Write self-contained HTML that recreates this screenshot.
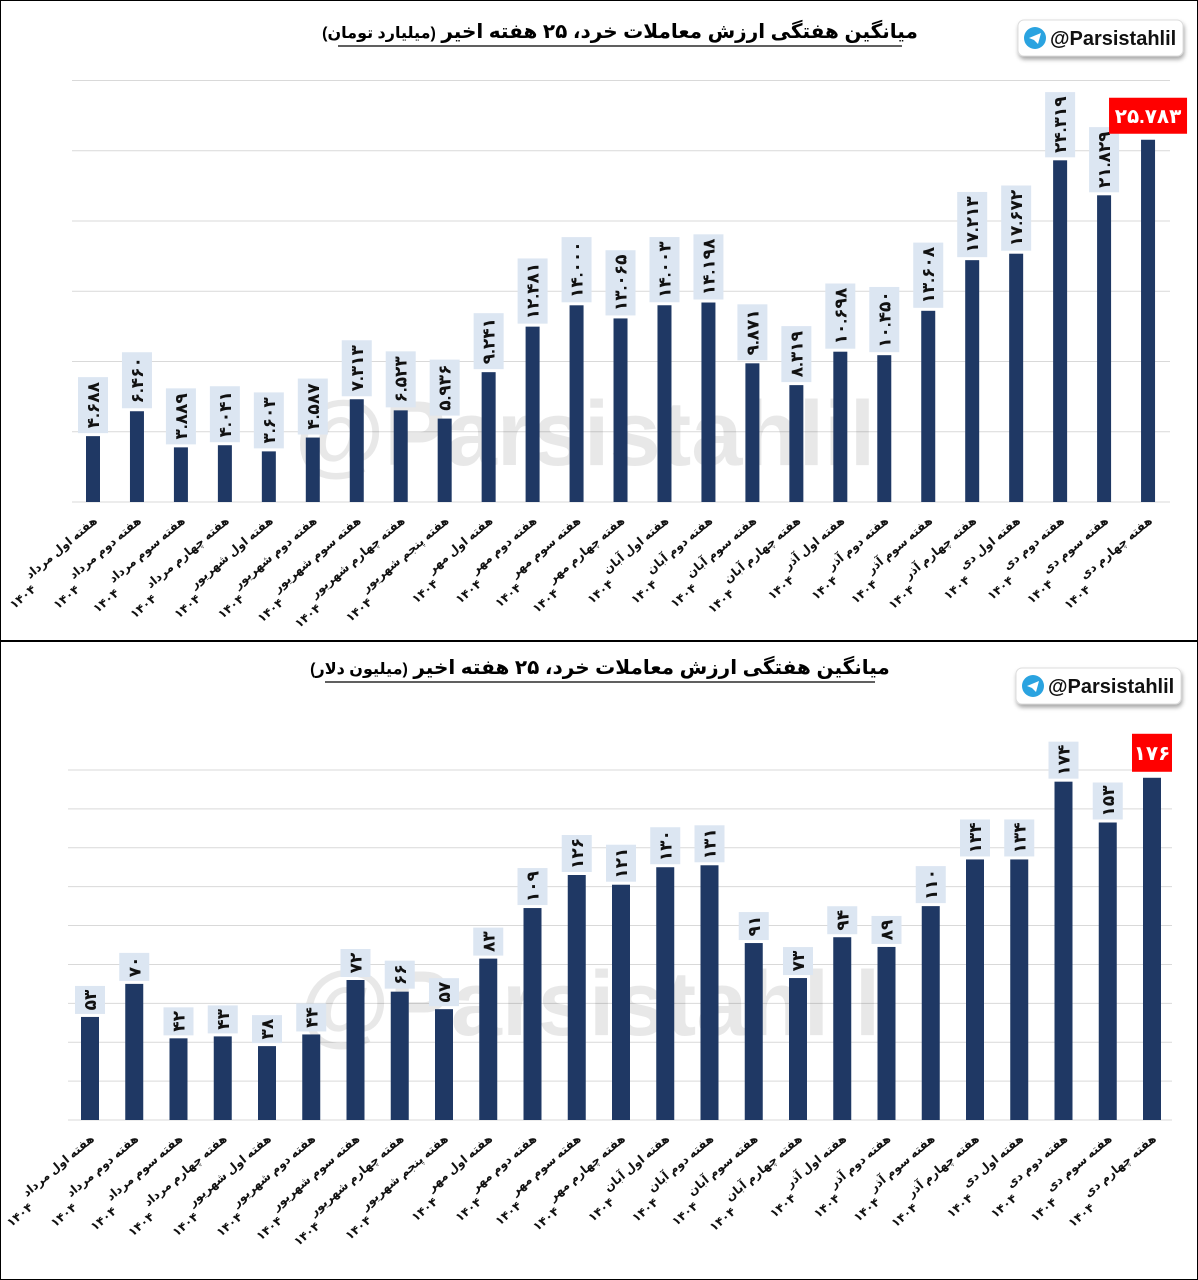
<!DOCTYPE html>
<html><head><meta charset="utf-8"><style>
html,body{margin:0;padding:0;background:#fff;}
svg{display:block;font-family:"Liberation Sans","DejaVu Sans",sans-serif;}
</style></head><body>
<svg id="s" width="1198" height="1280" viewBox="0 0 1198 1280" xmlns="http://www.w3.org/2000/svg">
<defs><filter id="sh" x="-10%" y="-30%" width="130%" height="180%"><feDropShadow dx="1" dy="3" stdDeviation="2" flood-color="#000" flood-opacity="0.35"/></filter></defs>
<rect x="0.5" y="0.5" width="1197" height="640" fill="#fff" stroke="#000" stroke-width="1"/>
<rect x="0.5" y="641.5" width="1197" height="638" fill="#fff" stroke="#000" stroke-width="1"/>
<g id="top"></g>
<g id="bot"></g>
</svg>
<script>
const categories=["هفته اول مرداد","هفته دوم مرداد","هفته سوم مرداد","هفته چهارم مرداد","هفته اول شهریور","هفته دوم شهریور","هفته سوم شهریور","هفته چهارم شهریور","هفته پنجم شهریور","هفته اول مهر","هفته دوم مهر","هفته سوم مهر","هفته چهارم مهر","هفته اول آبان","هفته دوم آبان","هفته سوم آبان","هفته چهارم آبان","هفته اول آذر","هفته دوم آذر","هفته سوم آذر","هفته چهارم آذر","هفته اول دی","هفته دوم دی","هفته سوم دی","هفته چهارم دی"];
const yearLabel="۱۴۰۴";
const tomanValues=[4.688,6.460,3.889,4.041,3.603,4.587,7.313,6.523,5.936,9.241,12.481,14.000,13.065,14.003,14.198,9.871,8.319,10.698,10.450,13.608,17.213,17.672,24.319,21.829,25.783];
const dollarValues=[53,70,42,43,38,44,72,66,57,83,109,126,121,130,131,91,73,94,89,110,134,134,174,153,176];
const tomanTicks=[0,5,10,15,20,25,30];
const dollarTicks=[0,20,40,60,80,100,120,140,160,180];

const NS="http://www.w3.org/2000/svg";
function fa(s){return String(s).replace(/[0-9]/g,d=>"۰۱۲۳۴۵۶۷۸۹"[d]);}
function mk(p,tag,a){const e=document.createElementNS(NS,tag);for(const k in a)e.setAttribute(k,a[k]);p.appendChild(e);return e;}

function drawChart(g,cfg){
  const y=v=>cfg.base-(v-cfg.min)/(cfg.max-cfg.min)*(cfg.base-cfg.top);
  const x=i=>cfg.x0+i*cfg.step;
  const t=mk(g,'text',{x:cfg.titleX,y:cfg.titleY,'text-anchor':'middle','font-size':20,'font-weight':'bold',direction:'rtl'});
  
  
  t.innerHTML='میانگین هفتگی ارزش معاملات خرد، ۲۵ هفته اخیر <tspan font-size="16">'+cfg.unit+'</tspan>';
  const ul=mk(g,'line',{x1:cfg.ulX1,x2:cfg.ulX2,y1:cfg.titleY+8,y2:cfg.titleY+8,stroke:'#000','stroke-width':1.3});
  
  
  const bg=mk(g,'g',{});
  
  
  mk(bg,'rect',{x:cfg.bx,y:cfg.by,width:165,height:36,rx:6,fill:'#fff',stroke:'#ddd',filter:'url(#sh)'});
  mk(bg,'circle',{cx:cfg.bx+17,cy:cfg.by+18,r:11,fill:'#2aa3e0'});
  mk(bg,'path',{d:`M${cfg.bx+11} ${cfg.by+18} L${cfg.bx+23} ${cfg.by+13} L${cfg.bx+20} ${cfg.by+24} L${cfg.bx+16} ${cfg.by+20} Z`,fill:'#fff'});
  const bt=mk(bg,'text',{x:cfg.bx+32,y:cfg.by+25,'font-size':20,'font-weight':'bold',fill:'#111'});bt.textContent='@Parsistahlil';
  cfg.ticks.forEach(v=>{
    const l=mk(g,'line',{x1:cfg.gx1,x2:cfg.gx2,y1:y(v),y2:y(v),stroke:'#d9d9d9','stroke-width':1});
    
    
  });
  const w=mk(g,'text',{x:cfg.wmX,y:cfg.wmY,'text-anchor':'middle','font-size':92,'font-weight':'bold',fill:'#000','fill-opacity':0.09});
  
  
  w.textContent='@Parsistahlil';
  const n=cfg.values.length;
  cfg.values.forEach((v,i)=>{
    const cx=x(i);
    const b=mk(g,'rect',{x:cx-cfg.bw/2,y:y(v),width:cfg.bw,height:cfg.base-y(v),fill:'#1f3864'});
    
    
    const lab=fa(cfg.fmt(v));
    if(i===n-1){
      const lg=mk(g,'g',{});
      
      
      mk(lg,'rect',{x:cx-cfg.rw/2,y:y(v)-6-cfg.rh,width:cfg.rw,height:cfg.rh,fill:'#ff0000'});
      const tt=mk(lg,'text',{x:cx,y:y(v)-6-cfg.rh/2+cfg.rfs*0.36,'text-anchor':'middle','font-size':cfg.rfs,'font-weight':'bold',fill:'#fff'});
      tt.textContent=lab;
    } else {
      const lg=mk(g,'g',{});
      
      
      const len=lab.length*cfg.cw+10;
      const by=y(v)-3;
      mk(lg,'rect',{x:cx-15,y:by-len,width:30,height:len,fill:'#dce6f2'});
      const tt=mk(lg,'text',{x:0,y:0,'text-anchor':'middle','font-size':cfg.lfs,'font-weight':'bold',fill:'#111',transform:`translate(${cx+6},${by-len/2}) rotate(-90)`});
      tt.textContent=lab;
    }
    const cg=mk(g,'g',{transform:`translate(${cx+5},${cfg.base+20}) rotate(-40)`});
    
    
    const l1=mk(cg,'text',{x:0,y:0,'text-anchor':'end','font-size':12,'font-weight':'bold',fill:'#111'});
    l1.textContent=categories[i];
    let w1=categories[i].length*5.6;
    try{w1=l1.getComputedTextLength()||w1;}catch(e){}
    const l2=mk(cg,'text',{x:-w1-2,y:13,'text-anchor':'end','font-size':12,'font-weight':'bold',fill:'#111'});
    l2.textContent=yearLabel;
  });
}
drawChart(document.getElementById('top'),{values:tomanValues,ticks:tomanTicks,min:0,max:30,base:502,top:80.5,x0:93,step:43.96,bw:14,
  gx1:72,gx2:1170,titleX:620,titleY:38,ulX1:338,ulX2:902,unit:'(میلیارد تومان)',bx:1018,by:20,wmX:585,wmY:465,
  fmt:v=>v.toFixed(3),cw:9.2,lfs:17,rw:78,rh:36,rfs:20});
drawChart(document.getElementById('bot'),{values:dollarValues,ticks:dollarTicks,min:0,max:180,base:1120,top:770,x0:90,step:44.25,bw:18,
  gx1:68,gx2:1172,titleX:600,titleY:674,ulX1:325,ulX2:875,unit:'(میلیون دلار)',bx:1016,by:668,wmX:590,wmY:1035,
  fmt:v=>String(v),cw:9,lfs:17,rw:40,rh:38,rfs:20});
</script>
</body></html>
